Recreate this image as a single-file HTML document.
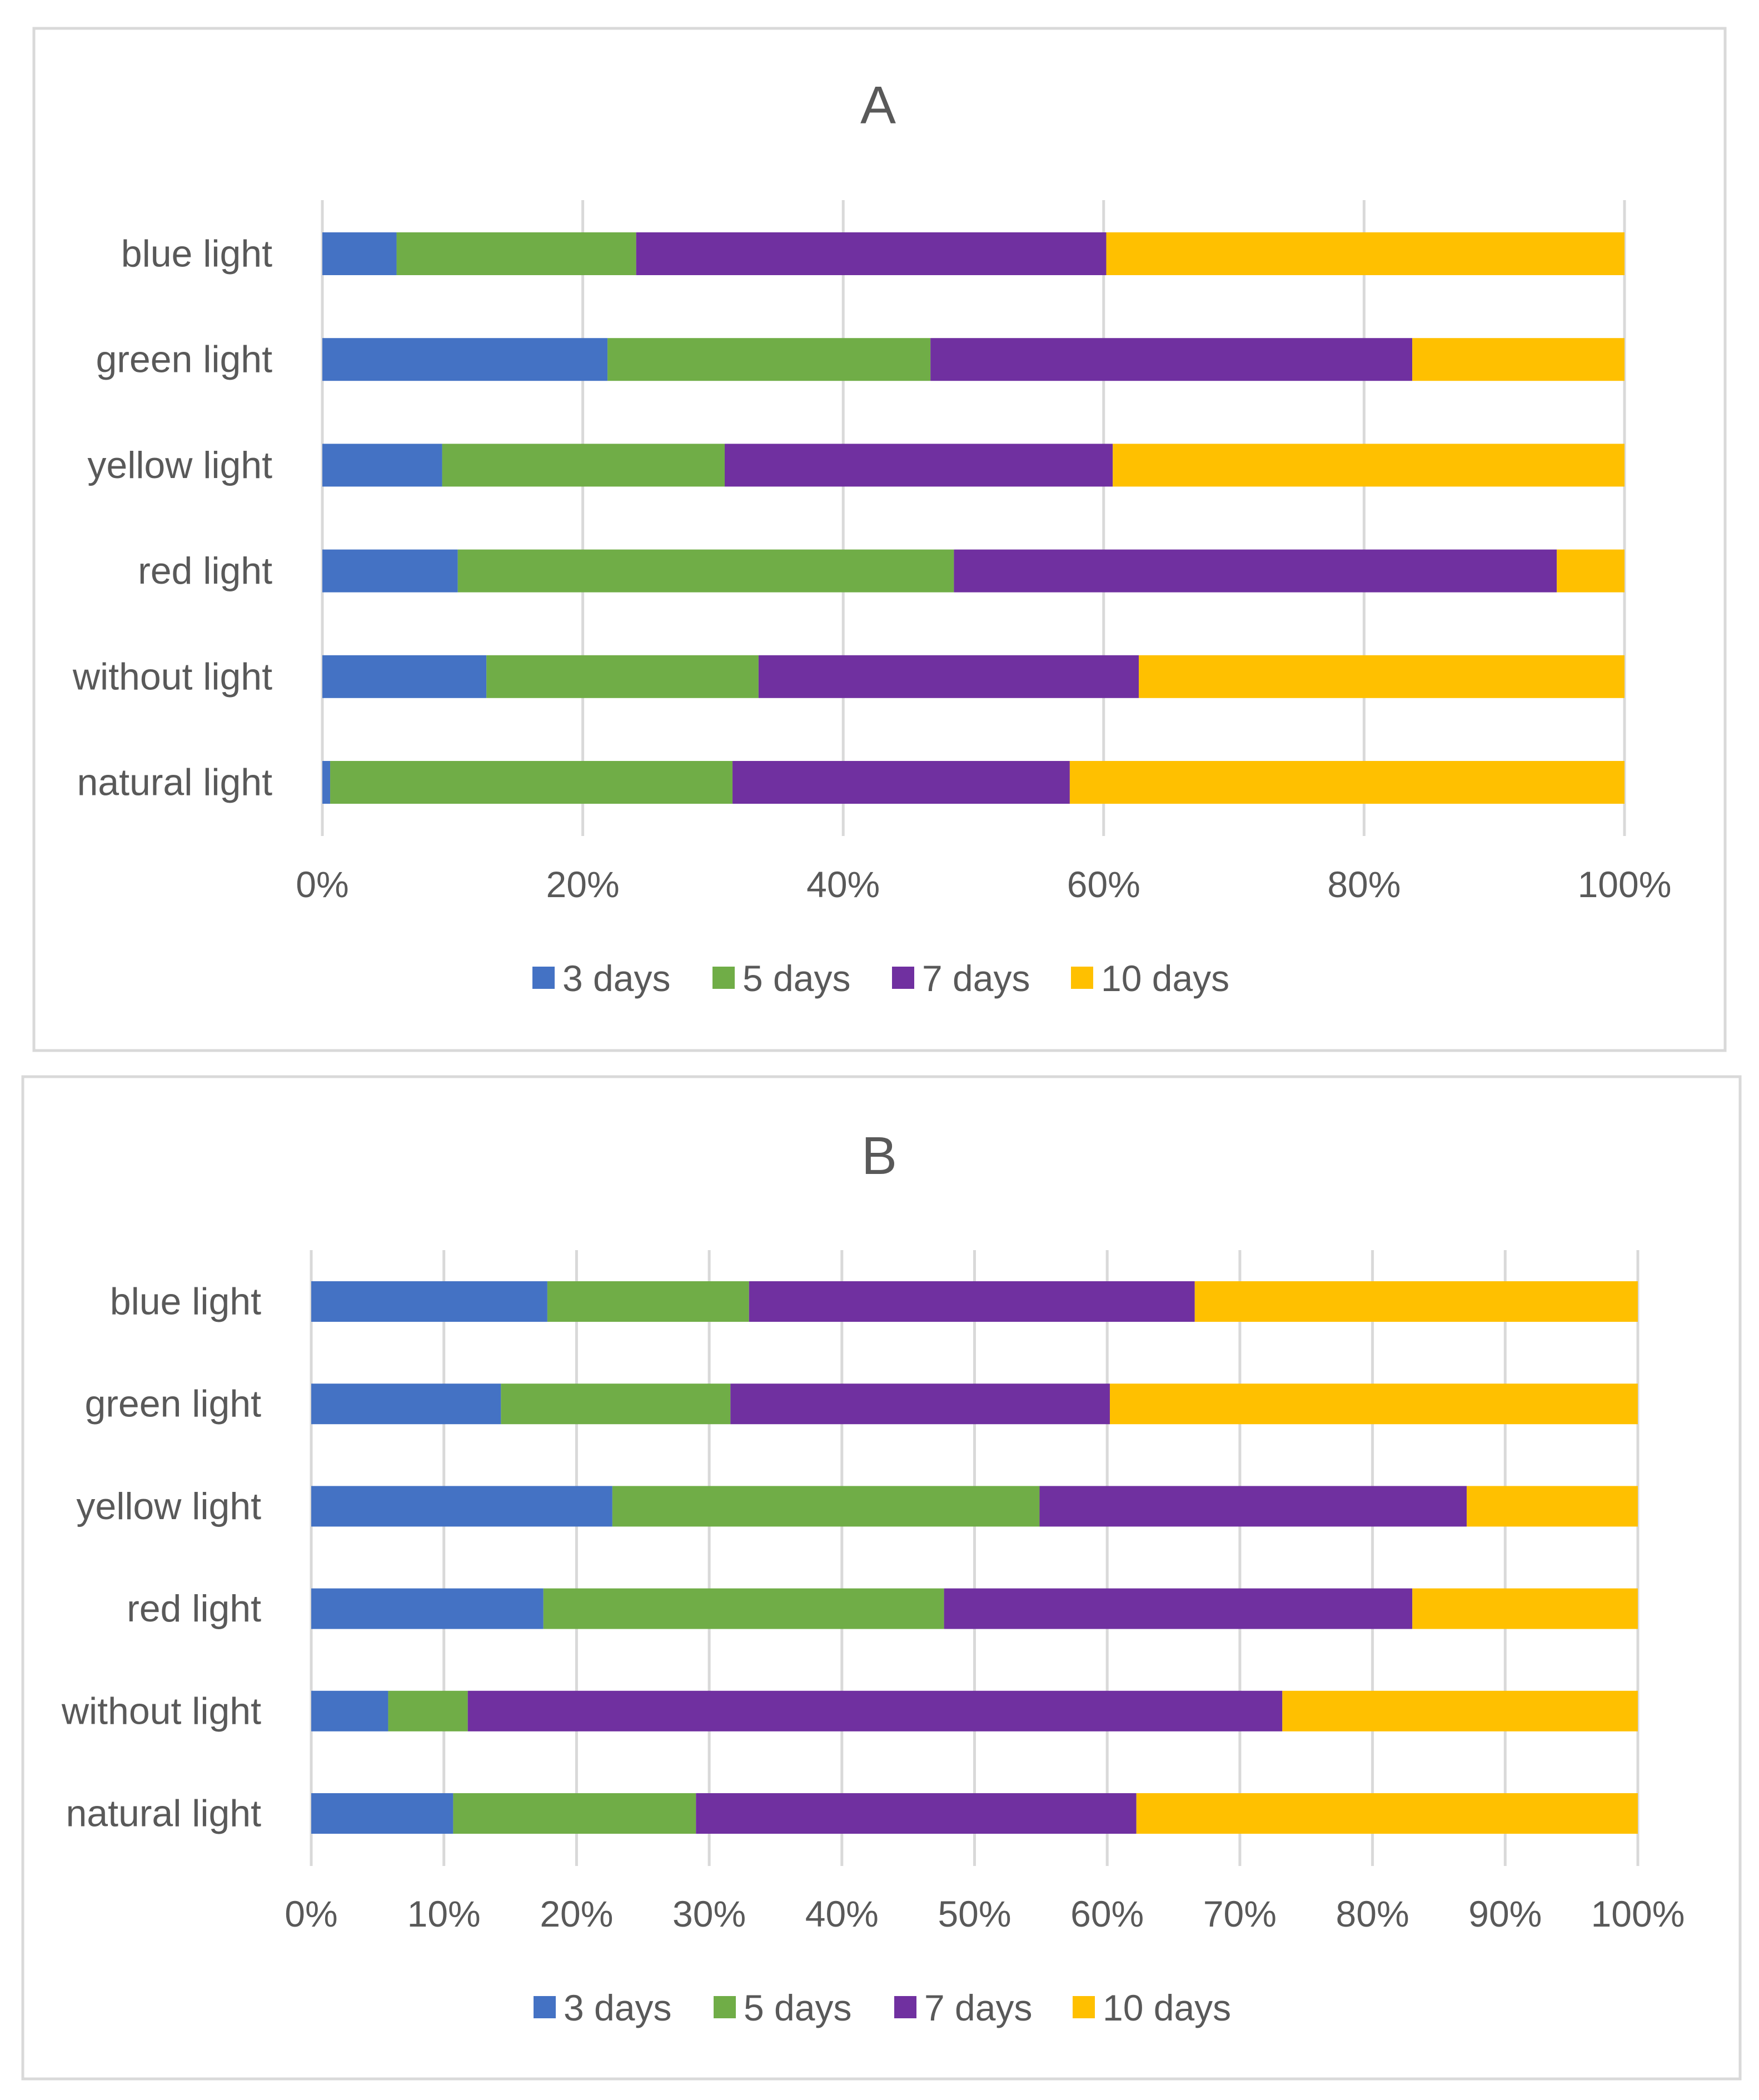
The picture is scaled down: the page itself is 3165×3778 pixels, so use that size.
<!DOCTYPE html>
<html><head><meta charset="utf-8"><style>
html,body{margin:0;padding:0;background:#fff;}
svg{display:block;font-family:"Liberation Sans",sans-serif;}
</style></head><body>
<svg id="chart" width="3165" height="3778" viewBox="0 0 3165 3778" xmlns="http://www.w3.org/2000/svg">
<rect x="0" y="0" width="3165" height="3778" fill="#fff"/>
<rect x="61" y="51" width="3043" height="1839" fill="none" stroke="#d9d9d9" stroke-width="5"/>
<rect x="41" y="1937" width="3090" height="1803" fill="none" stroke="#d9d9d9" stroke-width="5"/>
<text x="1580" y="222" font-size="96" fill="#595959" text-anchor="middle">A</text>
<text x="1582" y="2112" font-size="96" fill="#595959" text-anchor="middle">B</text>
<g id="pa"></g><g id="pb"></g>
</svg>
<script>
const categories = ["blue light","green light","yellow light","red light","without light","natural light"];
const seriesNames = ["3 days","5 days","7 days","10 days"];
const colors = ["#4472C4","#70AD47","#7030A0","#FFC000"];
// Panel A segment values (%)
const a3 = [5.7,21.9,9.2,10.4,12.6,0.6];
const a5 = [18.4,24.8,21.7,38.1,20.9,30.9];
const a7 = [36.1,37.0,29.8,46.3,29.2,25.9];
const a10 = [39.8,16.3,39.3,5.2,37.3,42.6];
// Panel B segment values (%)
const b3 = [17.8,14.3,22.7,17.5,5.8,10.7];
const b5 = [15.2,17.3,32.2,30.2,6.0,18.3];
const b7 = [33.6,28.6,32.2,35.3,61.4,33.2];
const b10 = [33.4,39.8,12.9,17.0,26.8,37.8];
const ticksA = ["0%","20%","40%","60%","80%","100%"];
const ticksB = ["0%","10%","20%","30%","40%","50%","60%","70%","80%","90%","100%"];

const NS="http://www.w3.org/2000/svg";
function mk(tag, attrs, parent){const e=document.createElementNS(NS,tag);for(const k in attrs)e.setAttribute(k,attrs[k]);parent.appendChild(e);return e;}

function drawPanel(g, cfg, series, ticks, id){
  const xScale = v => cfg.x0 + (cfg.x1-cfg.x0)*v/100;
  const yBand = i => cfg.barTop0 + i*cfg.step;
  ticks.forEach((t,i)=>{
    const v = 100*i/(ticks.length-1);
    const l = mk('line',{x1:xScale(v),x2:xScale(v),y1:cfg.gTop,y2:cfg.gBot,stroke:'#d9d9d9','stroke-width':5},g);
    
    
    const tx = mk('text',{x:xScale(v),y:cfg.tickY,'font-size':66,fill:'#595959','text-anchor':'middle'},g);
    tx.textContent=t;
    
    
  });
  categories.forEach((c,i)=>{
    let cum=0;
    series.forEach((s,k)=>{
      const r = mk('rect',{x:xScale(cum),y:yBand(i),width:xScale(cum+s[i])-xScale(cum),height:cfg.barH,fill:colors[k]},g);
      
      
      cum+=s[i];
    });
    const lb = mk('text',{x:cfg.labelX,y:yBand(i)+cfg.barH/2+23,'font-size':68,fill:'#595959','text-anchor':'end'},g);
    lb.textContent=c;
    
    
  });
  seriesNames.forEach((n,k)=>{
    const sq = mk('rect',{x:cfg.legX[k],y:cfg.legY-21,width:40,height:40,fill:colors[k]},g);
    
    
    const t = mk('text',{x:cfg.legX[k]+54,y:cfg.legY+23,'font-size':66,fill:'#595959'},g);
    t.textContent=n;
    
    
  });
}
drawPanel(document.getElementById('pa'),
  {x0:580,x1:2923,gTop:360,gBot:1504,barTop0:418,step:190.2,barH:77,tickY:1614,labelX:490,legY:1760,legX:[958,1282,1605,1927]},
  [a3,a5,a7,a10], ticksA, 'panel-a');
drawPanel(document.getElementById('pb'),
  {x0:560,x1:2947,gTop:2249,gBot:3357,barTop0:2305,step:184.2,barH:73,tickY:3466,labelX:470,legY:3612,legX:[960,1284,1609,1930]},
  [b3,b5,b7,b10], ticksB, 'panel-b');
</script>
</body></html>
